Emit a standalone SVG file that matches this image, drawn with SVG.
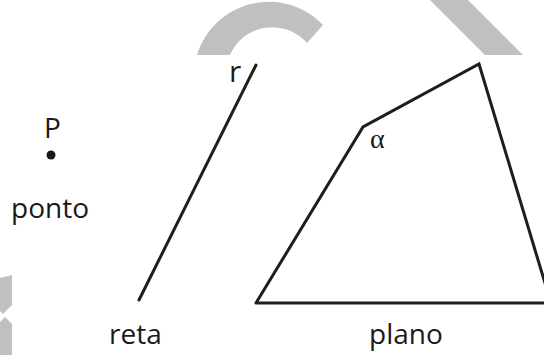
<svg xmlns="http://www.w3.org/2000/svg" width="544" height="355" viewBox="0 0 544 355">
<style>
.lbl{font-family:"Open Sans","Liberation Sans",sans-serif;font-size:28px;fill:#1a1a1a}
.greek{font-family:"Liberation Serif","DejaVu Serif",serif;font-size:28px;fill:#1a1a1a}
.stk{fill:none;stroke:#1e1e1e;stroke-width:3;stroke-linejoin:miter;stroke-linecap:round}
.wm{fill:#c0c0c0;stroke:none}
</style>
<rect width="544" height="355" fill="#fff"/>
<g id="watermark">
<path class="wm" d="M197,55 A75,75 0 0 1 323,25 L307,43 A46,46 0 0 0 230,55 Z"/>
<polygon class="wm" points="430,0 468,0 523,55 485,55"/>
<polygon class="wm" points="0,278 12,275 12,305 3,314 0,311"/>
<polygon class="wm" points="0,322 5,317 12,324 12,355 0,355"/>
</g>
<g id="ponto">
<circle cx="51" cy="155" r="4.5" fill="#1a1a1a"/>
<text class="lbl" x="44" y="138">P</text>
<text class="lbl" x="11" y="218">ponto</text>
</g>
<g id="reta">
<line class="stk" x1="256" y1="65" x2="139" y2="300"/>
<text class="lbl" x="229" y="82" style="font-size:30px">r</text>
<text class="lbl" x="109" y="344">reta</text>
</g>
<g id="plano">
<polyline class="stk" points="256,303 363,127 479,64 551,303 256,303"/>
<text class="greek" x="370" y="148">α</text>
<text class="lbl" x="369" y="344">plano</text>
</g>
</svg>
